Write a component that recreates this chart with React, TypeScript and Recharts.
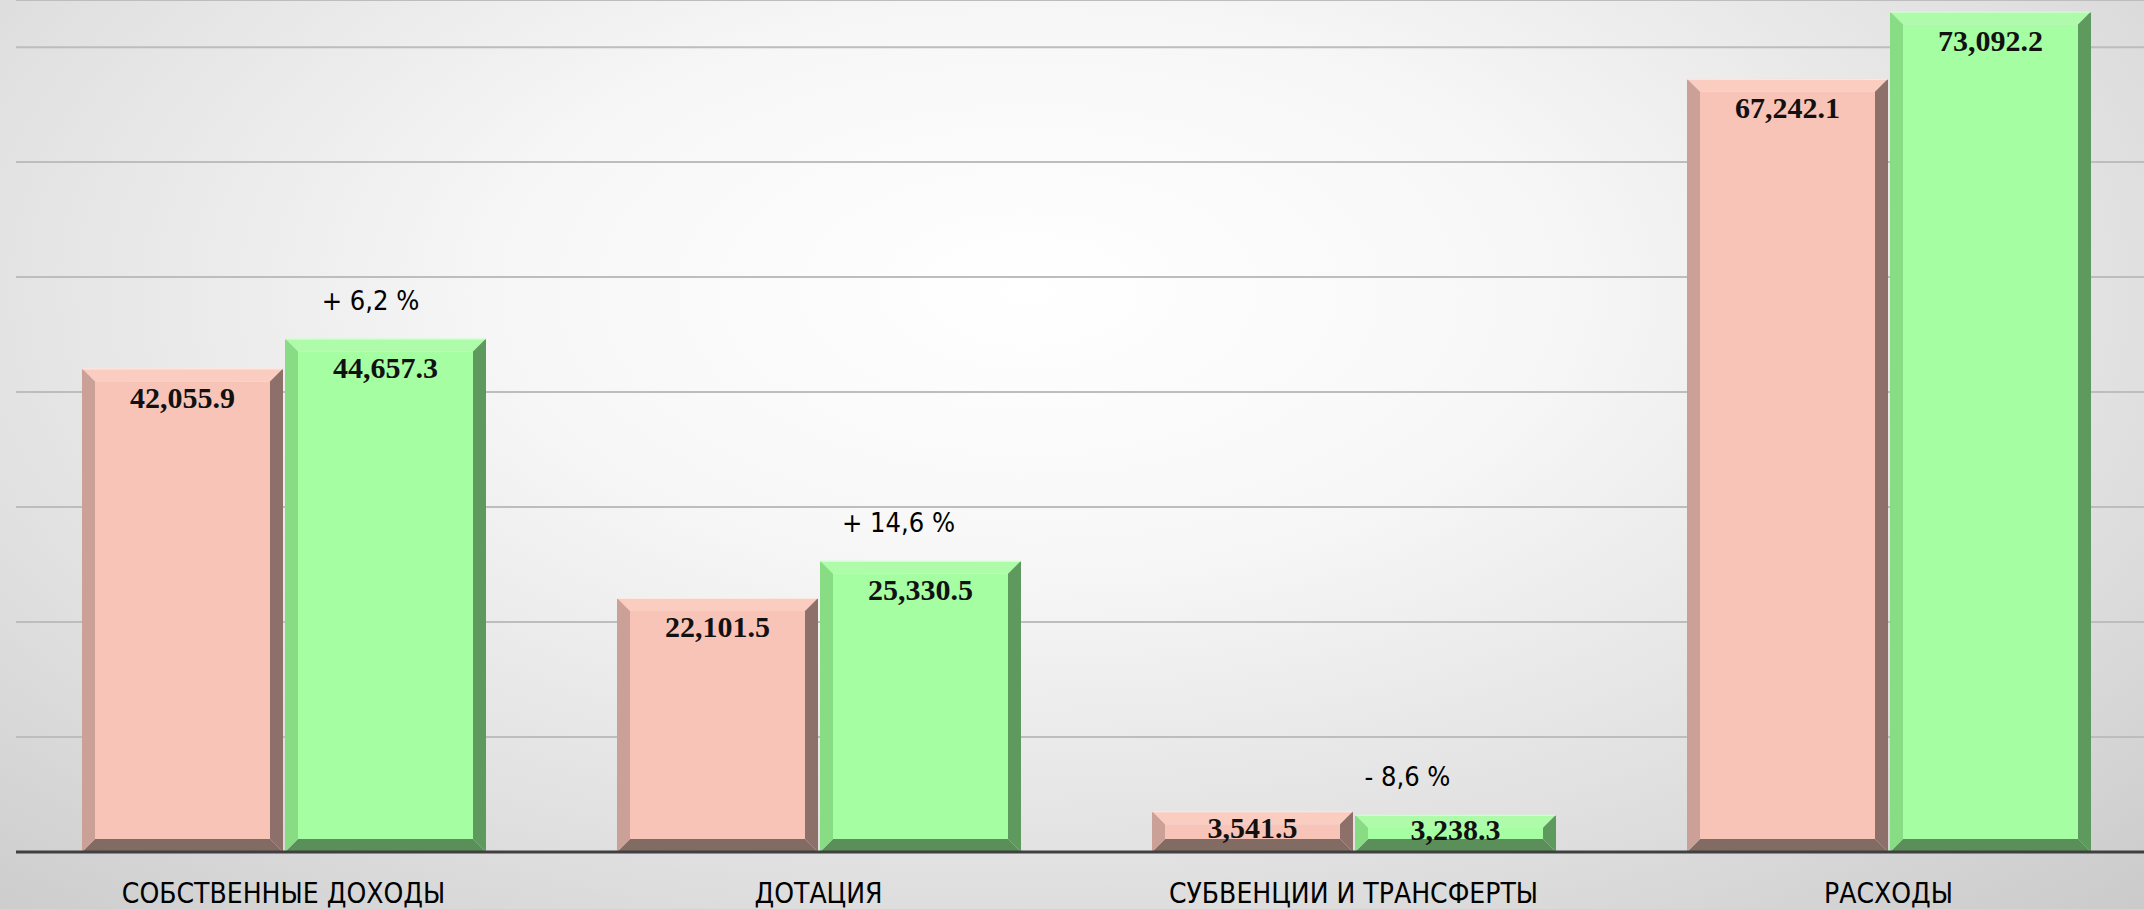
import React from 'react';
import { BarChart, Bar, XAxis, YAxis, CartesianGrid, LabelList } from 'recharts';

// Budget categories and values (thousand) for two periods
const categories = ['СОБСТВЕННЫЕ ДОХОДЫ', 'ДОТАЦИЯ', 'СУБВЕНЦИИ И ТРАНСФЕРТЫ', 'РАСХОДЫ'];
const prevValues = [42055.9, 22101.5, 3541.5, 67242.1];
const currValues = [44657.3, 25330.5, 3238.3, 73092.2];
const changeLabels = ['+ 6,2 %', '+ 14,6 %', '- 8,6 %', ''];
const yTicks = [0, 10000, 20000, 30000, 40000, 50000, 60000, 70000];

// horizontal nudges of the change labels (they were placed by hand in the original)
const changeLabelDx = [-15, -22, -48, 0];

const data = categories.map((name, i) => ({
  name,
  prev: prevValues[i],
  curr: currValues[i],
  change: changeLabels[i],
}));

const pink = { face: '#F7C4B7', top: '#FBCDC1', left: '#CBA096', right: '#8D7069', bottom: '#826B63' };
const green = { face: '#A6FEA2', top: '#AEFBA9', left: '#88DC84', right: '#5E9A5D', bottom: '#5B8F5A' };

const labelFont = '"Liberation Sans Narrow", "DejaVu Sans Condensed", "Liberation Sans", sans-serif';

const fmt = (v: number) =>
  v.toLocaleString('en-US', { minimumFractionDigits: 1, maximumFractionDigits: 1 });

const BevelBar = (props: any) => {
  const { x, y, width: w, height: h, colors } = props;
  if (!w || !h) return null;
  const b = Math.min(13, w / 2, h / 2);
  const pts = (arr: number[][]) => arr.map((p) => p.join(',')).join(' ');
  return (
    <g>
      <rect x={x + b} y={y + b} width={w - 2 * b} height={h - 2 * b} fill={colors.face} />
      <polygon points={pts([[x, y], [x + w, y], [x + w - b, y + b], [x + b, y + b]])} fill={colors.top} />
      <polygon points={pts([[x, y + h], [x + w, y + h], [x + w - b, y + h - b], [x + b, y + h - b]])} fill={colors.bottom} />
      <polygon points={pts([[x, y], [x + b, y + b], [x + b, y + h - b], [x, y + h]])} fill={colors.left} />
      <polygon points={pts([[x + w, y], [x + w - b, y + b], [x + w - b, y + h - b], [x + w, y + h]])} fill={colors.right} />
      <line x1={x} x2={x + w} y1={y + 0.5} y2={y + 0.5} stroke="#ffffff" strokeOpacity={0.6} />
    </g>
  );
};

const ValueLabel = (props: any) => {
  const { x, y, width, height, value } = props;
  const cy = y + Math.min(29, height * 0.4);
  return (
    <text
      x={x + width / 2}
      y={cy}
      textAnchor="middle"
      dominantBaseline="central"
      fontFamily='"Liberation Serif", serif'
      fontWeight="bold"
      fontSize={30}
      fill="#111"
    >
      {fmt(value)}
    </text>
  );
};

const ChangeLabel = (props: any) => {
  const { x, y, width, index } = props;
  const text = changeLabels[index];
  if (!text) return null;
  return (
    <text
      x={x + width / 2 + changeLabelDx[index]}
      y={y - 38}
      textAnchor="middle"
      dominantBaseline="central"
      fontFamily={labelFont}
      fontSize={27}
      fill="#000"
    >
      {text}
    </text>
  );
};

const CategoryTick = (props: any) => {
  const { x, payload } = props;
  return (
    <text
      x={x}
      y={893}
      textAnchor="middle"
      dominantBaseline="central"
      fontFamily={labelFont}
      fontSize={28}
      fill="#000"
    >
      {payload.value}
    </text>
  );
};

const App: React.FC = () => {
  return (
    <div
      style={{
        position: 'absolute',
        left: 0,
        top: 0,
        width: 2144,
        height: 909,
        overflow: 'hidden',
        background:
          'radial-gradient(ellipse 80% 100% at 48% 32%, #ffffff 0%, #f7f7f7 30%, #e0e0e0 65%, #c6c6c6 100%)',
      }}
    >
      <BarChart
        width={2160}
        height={909}
        data={data}
        margin={{ top: 0, right: 4, left: 16, bottom: 0 }}
        barSize={201}
        barGap={2}
      >
        <CartesianGrid horizontal vertical={false} stroke="#bdbdbd" strokeWidth={2} />
        <YAxis hide domain={[0, 74100]} ticks={yTicks} />
        <XAxis
          dataKey="name"
          height={57}
          tickLine={false}
          axisLine={{ stroke: '#404040', strokeWidth: 3 }}
          tick={<CategoryTick />}
          interval={0}
        />
        <Bar
          dataKey="prev"
          isAnimationActive={false}
          shape={(p: any) => <BevelBar {...p} colors={pink} />}
        >
          <LabelList dataKey="prev" content={<ValueLabel />} />
        </Bar>
        <Bar
          dataKey="curr"
          isAnimationActive={false}
          shape={(p: any) => <BevelBar {...p} colors={green} />}
        >
          <LabelList dataKey="curr" content={<ValueLabel />} />
          <LabelList dataKey="change" content={<ChangeLabel />} />
        </Bar>
      </BarChart>
    </div>
  );
};

export default App;
